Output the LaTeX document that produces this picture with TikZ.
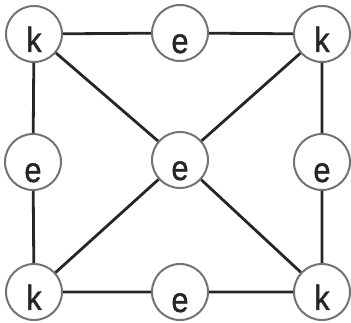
\documentclass[tikz,border=0pt]{standalone}
\usepackage{fontspec}
\setmainfont{Liberation Sans}
\newfontfamily\lblfont{Liberation Sans}[FakeBold=1.2]
\begin{document}
\begin{tikzpicture}[x=1pt,y=1pt,
  vert/.style={circle, draw=black!55, line width=2pt, fill=white, minimum size=56pt, inner sep=0pt},
  lbl/.style={anchor=base, inner sep=0pt, text=black!85, font=\lblfont\fontsize{35}{35}\selectfont, xscale=0.88},
  edge/.style={draw=black!85, line width=2.8pt}]
\useasboundingbox (0,0) rectangle (351,-323);
\node[vert] (tl) at (34,-34) {};
\node[vert] (tm) at (180,-33) {};
\node[vert] (tr) at (322,-34) {};
\node[vert] (ml) at (33,-162) {};
\node[vert] (c) at (180,-160) {};
\node[vert] (mr) at (322,-162) {};
\node[vert] (bl) at (34,-292) {};
\node[vert] (bm) at (180,-292) {};
\node[vert] (br) at (322,-292) {};
\path[edge] (tl) -- (tm) (tm) -- (tr)
  (tl) -- (ml) (ml) -- (bl)
  (tr) -- (mr) (mr) -- (br)
  (bl) -- (bm) (bm) -- (br)
  (tl) -- (c) (tr) -- (c) (bl) -- (c) (br) -- (c);
\node[lbl] (tlt) at ([yshift=-18pt]tl.center) {k};
\node[lbl] (tmt) at ([yshift=-20pt]tm.center) {e};
\node[lbl] (trt) at ([yshift=-18pt]tr.center) {k};
\node[lbl] (mlt) at ([yshift=-20pt]ml.center) {e};
\node[lbl] (ct) at ([yshift=-20pt]c.center) {e};
\node[lbl] (mrt) at ([yshift=-20pt]mr.center) {e};
\node[lbl] (blt) at ([yshift=-18pt]bl.center) {k};
\node[lbl] (bmt) at ([yshift=-20pt]bm.center) {e};
\node[lbl] (brt) at ([yshift=-18pt]br.center) {k};
\end{tikzpicture}
\end{document}
